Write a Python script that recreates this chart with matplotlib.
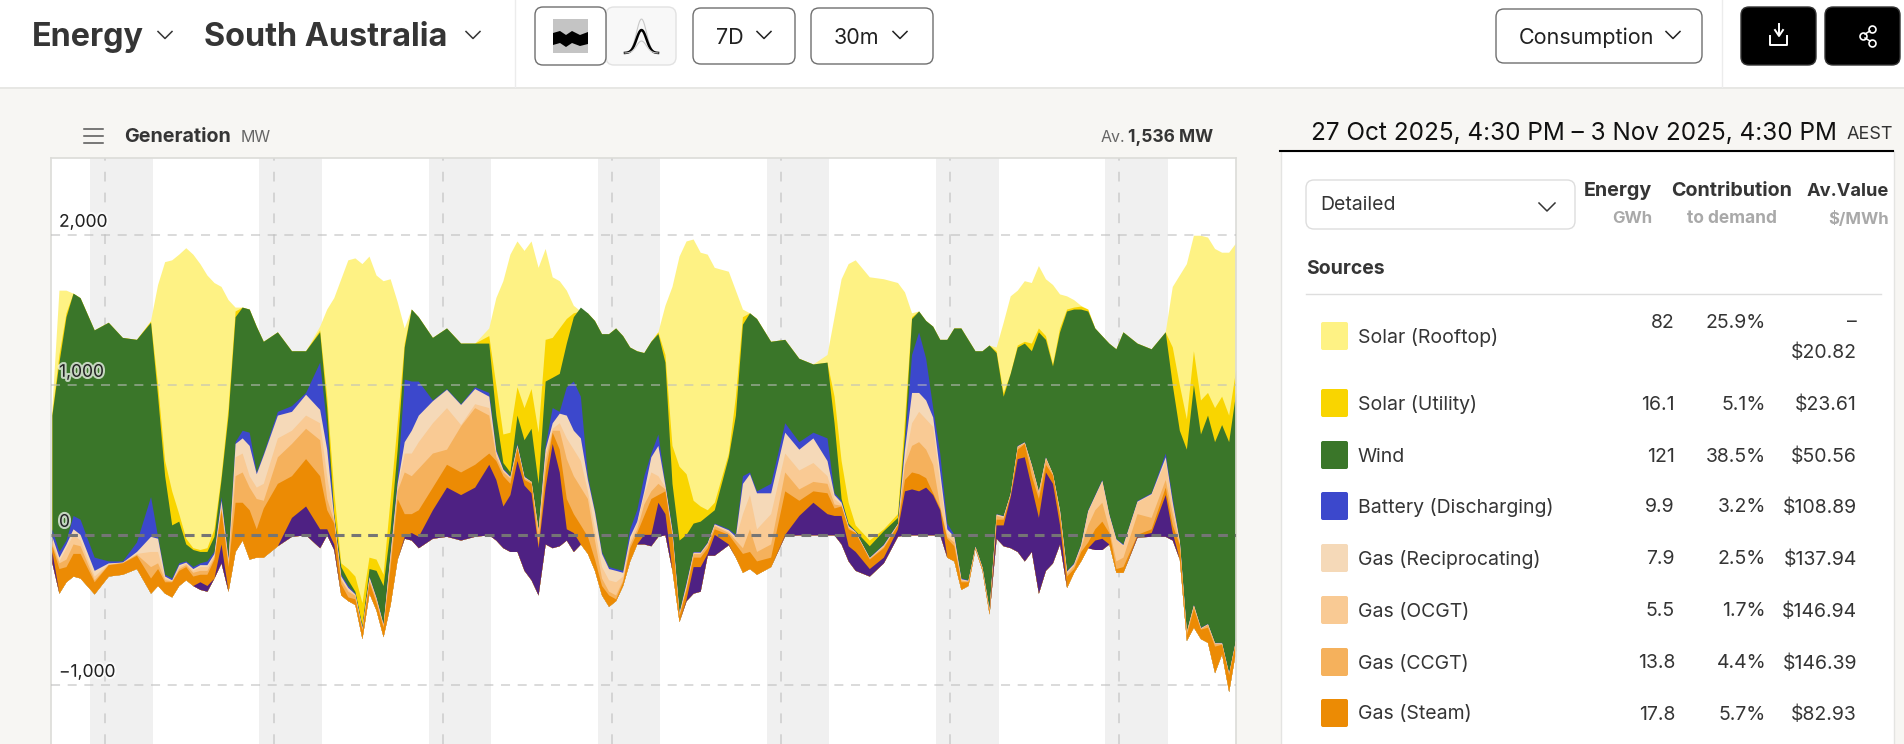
import numpy as np
import matplotlib
matplotlib.use('Agg')
import matplotlib.pyplot as plt
from matplotlib.patches import FancyBboxPatch, Rectangle, Polygon
import matplotlib.patheffects as pe

plt.rcParams['font.family'] = ['Inter', 'DejaVu Sans']
plt.rcParams['lines.scale_dashes'] = False

# hours since 27 Oct 4:30 PM, hourly where the stack moves fast
hours = [0, 1, 2, 3, 4, 6, 8, 10, 12, 14, 15, 16, 17, 18, 19, 20, 21, 22, 23, 24, 25, 26, 27, 28, 29, 30, 32, 34, 36, 38, 39, 40, 41, 42, 43, 44, 45, 46, 47, 48, 49, 50, 51, 52, 54, 56, 58, 60, 62, 63, 64, 65, 66, 67, 68, 69, 70, 71, 72, 73, 74, 75, 76, 77, 78, 79, 80, 81, 82, 83, 84, 85, 86, 87, 88, 89, 90, 91, 92, 93, 94, 96, 97, 98, 99, 100, 102, 104, 106, 108, 110, 111, 112, 113, 114, 116, 118, 120, 121, 122, 123, 124, 125, 126, 127, 128, 129, 130, 131, 132, 133, 134, 135, 136, 137, 138, 139, 140, 141, 142, 143, 144, 145, 146, 147, 148, 149, 150, 151, 152, 154, 156, 158, 159, 160, 161, 162, 163, 164, 165, 166, 167, 168]

# top edge of every layer of the stack, MW
rooftop_top = [848, 1631, 1631, 1611, 1581, 1366, 1417, 1316, 1303, 1429, 1669, 1821, 1833, 1871, 1914, 1871, 1808, 1732, 1682, 1656, 1568, 1518, 1518, 1505, 1391, 1290, 1353, 1227, 1227, 1391, 1505, 1581, 1707, 1833, 1846, 1808, 1858, 1732, 1694, 1707, 1555, 1379, 1505, 1454, 1316, 1379, 1278, 1278, 1379, 1581, 1694, 1871, 1959, 1896, 1959, 1783, 1909, 1720, 1694, 1631, 1530, 1492, 1480, 1429, 1341, 1341, 1379, 1328, 1252, 1227, 1215, 1290, 1353, 1530, 1656, 1858, 1959, 1972, 1884, 1871, 1783, 1757, 1631, 1505, 1480, 1442, 1290, 1303, 1177, 1139, 1202, 1454, 1707, 1808, 1833, 1720, 1707, 1682, 1619, 1480, 1492, 1429, 1391, 1303, 1303, 1379, 1379, 1303, 1227, 1227, 1265, 1252, 1417, 1593, 1631, 1694, 1682, 1795, 1707, 1669, 1606, 1593, 1568, 1530, 1505, 1379, 1328, 1278, 1240, 1353, 1278, 1240, 1353, 1656, 1732, 1808, 1997, 1997, 1985, 1909, 1884, 1884, 1947]
utility_top = [811, 1202, 1480, 1611, 1581, 1366, 1417, 1316, 1303, 1424, 1000, 495, 293, 141, -23, -86, -98, -86, 40, 394, 848, 1492, 1518, 1505, 1391, 1290, 1353, 1227, 1227, 1366, 924, 293, -187, -225, -275, -452, -149, -162, -263, 242, 747, 1278, 1505, 1454, 1316, 1379, 1278, 1278, 1328, 1000, 672, 684, 987, 848, 975, 684, 1303, 1316, 1379, 1442, 1480, 1492, 1480, 1429, 1341, 1341, 1379, 1328, 1252, 1227, 1215, 1290, 1353, 1202, 596, 457, 407, 230, 192, 167, 217, 545, 924, 1454, 1480, 1442, 1290, 1303, 1177, 1139, 1151, 924, 495, 217, 66, -35, 40, 141, 773, 1454, 1492, 1429, 1391, 1303, 1303, 1379, 1379, 1303, 1227, 1227, 1265, 1227, 949, 1076, 1265, 1290, 1278, 1379, 1328, 1139, 1379, 1505, 1518, 1525, 1505, 1379, 1328, 1278, 1240, 1353, 1278, 1240, 1353, 1252, 1000, 773, 1227, 899, 949, 848, 924, 798, 1101]
wind_top = [798, 1151, 1454, 1611, 1581, 1366, 1417, 1316, 1303, 1417, 924, 394, 66, 91, -61, -98, -111, -111, -10, 369, 798, 1454, 1518, 1505, 1391, 1290, 1353, 1227, 1227, 1353, 848, 141, -212, -300, -376, -603, -225, -237, -338, 40, 571, 1252, 1505, 1454, 1316, 1379, 1278, 1278, 1278, 798, 482, 419, 798, 634, 710, 343, 1025, 1050, 1076, 1278, 1454, 1518, 1480, 1429, 1341, 1341, 1379, 1328, 1252, 1227, 1215, 1290, 1341, 1151, 343, -35, 3, 78, 91, 129, 167, 520, 798, 1404, 1480, 1442, 1290, 1303, 1177, 1139, 1151, 747, 242, 78, 28, -73, 28, 116, 672, 1442, 1492, 1429, 1391, 1303, 1303, 1379, 1379, 1303, 1227, 1227, 1265, 1215, 924, 1076, 1252, 1278, 1227, 1353, 1303, 1126, 1353, 1492, 1505, 1505, 1492, 1379, 1328, 1278, 1240, 1353, 1278, 1240, 1353, 1000, 697, 571, 1000, 672, 798, 621, 735, 621, 949]
battery_top = [40, -111, -35, 129, 104, -149, -174, -174, -48, 255, -10, -263, -288, -187, -174, -212, -187, -174, -111, 255, -149, 621, 697, 684, 419, 545, 823, 861, 949, 1151, 722, 129, -263, -338, -389, -616, -275, -414, -591, -111, 369, 1038, 1025, 1025, 899, 975, 874, 987, 949, 571, 444, 394, 609, 394, 356, 40, 596, 848, 823, 987, 1025, 924, 394, 167, -111, -212, -225, -237, 40, 167, 394, 545, 672, 343, 40, -515, -313, -111, -111, -48, 78, 40, 3, 394, 419, 293, 343, 747, 621, 684, 646, 280, 230, 66, 25, -149, -61, 78, 621, 1202, 1353, 1177, 848, 545, 78, 3, -288, -300, -73, -212, -490, 141, 129, 280, 596, 621, 470, 293, 520, 407, 167, -237, -187, -61, 167, 268, 369, 141, -23, -61, 230, 280, 545, 242, -35, -641, -465, -616, -591, -717, -717, -919, -692]
recip_top = [-10, -149, -61, 40, 3, -237, -187, -182, -111, -10, -23, -275, -300, -199, -182, -225, -199, -199, -124, 230, -162, 609, 646, 596, 407, 533, 798, 823, 937, 836, 571, 116, -275, -351, -394, -621, -280, -419, -596, -124, 343, 621, 697, 798, 894, 970, 869, 975, 924, 558, 437, 389, 601, 389, 356, 35, 571, 747, 811, 798, 697, 646, 369, 154, -124, -225, -237, -250, -10, 91, 293, 520, 596, 331, 28, -520, -326, -116, -116, -53, 73, 33, -10, 343, 407, 280, 280, 684, 571, 646, 495, 268, 217, 61, 23, -151, -66, 76, 571, 949, 949, 899, 785, 419, 40, -10, -293, -303, -76, -215, -495, 139, 126, 278, 593, 619, 467, 290, 518, 407, 164, -242, -192, -66, 162, 263, 364, 136, -28, -66, 225, 275, 520, 217, -40, -644, -467, -619, -593, -720, -720, -922, -694]
ocgt_top = [-35, -174, -86, 3, -35, -275, -192, -182, -124, -111, -111, -288, -306, -212, -187, -237, -212, -212, -136, 205, -174, 520, 545, 394, 318, 343, 646, 697, 798, 747, 394, 104, -288, -364, -399, -626, -288, -424, -601, -136, 318, 545, 545, 621, 747, 848, 735, 874, 848, 545, 429, 384, 596, 384, 356, 30, 545, 710, 747, 646, 571, 495, 293, 40, -212, -300, -313, -275, -35, 78, 268, 419, 394, 318, 15, -525, -338, -121, -121, -58, 68, 25, -23, 141, 268, 40, 141, 545, 432, 482, 394, 242, 205, 56, 20, -154, -71, 73, 495, 747, 823, 773, 722, 343, 15, -23, -298, -306, -78, -217, -500, 136, 124, 275, 591, 616, 465, 288, 515, 407, 162, -247, -197, -71, 157, 258, 359, 131, -33, -71, 220, 270, 495, 192, -45, -646, -470, -621, -596, -722, -722, -924, -697]
ccgt_top = [-61, -187, -162, -61, -73, -300, -197, -184, -129, -212, -187, -300, -308, -225, -199, -250, -237, -237, -149, 179, -187, 394, 419, 318, 242, 230, 520, 609, 710, 634, 242, 91, -300, -376, -404, -631, -300, -429, -606, -162, 293, 419, 394, 444, 545, 571, 727, 848, 798, 520, 419, 379, 588, 379, 356, 25, 495, 697, 697, 508, 394, 318, 242, -35, -288, -376, -401, -300, -61, 40, 205, 293, 343, 306, 3, -530, -351, -126, -126, -63, 61, 15, -35, -86, 40, -111, -61, 419, 306, 356, 343, 205, 197, 51, 18, -157, -76, 71, 470, 596, 621, 571, 470, 192, -10, -48, -303, -308, -81, -220, -505, 129, 116, 273, 588, 614, 460, 280, 508, 407, 154, -258, -207, -86, 66, 167, 217, 40, -174, -149, 141, 116, 369, 141, -61, -649, -472, -624, -598, -725, -725, -927, -699]
steam_top = [-73, -225, -212, -124, -124, -313, -199, -187, -136, -288, -225, -313, -313, -237, -212, -275, -263, -263, -162, 167, -212, 217, 217, 167, 40, 179, 343, 394, 508, 394, 167, 78, -326, -414, -427, -636, -313, -452, -616, -212, 242, 141, 141, 167, 318, 470, 419, 470, 545, 495, 394, 343, 583, 369, 343, -61, 419, 684, 571, 242, 141, 66, -10, -162, -338, -401, -427, -313, -86, 15, 129, 242, 268, 293, -10, -540, -364, -149, -149, -86, 40, 3, -61, -124, -111, -174, -149, 293, 230, 293, 280, 179, 192, 40, 15, -162, -86, 66, 369, 419, 407, 381, 280, 179, -23, -73, -313, -313, -86, -225, -510, 104, 104, 268, 571, 609, 394, 242, 470, 399, 129, -275, -225, -111, -48, 40, 91, 15, -225, -212, 3, 40, 318, 66, -66, -667, -490, -629, -616, -742, -730, -932, -704]
imports_top = [-111, -389, -313, -275, -288, -394, -275, -263, -225, -389, -338, -389, -414, -338, -300, -338, -313, -338, -288, -61, -376, -111, -35, -162, -149, -149, -73, 116, 192, 40, 40, -61, -401, -439, -465, -692, -389, -502, -679, -465, -162, -10, 15, -10, 167, 318, 268, 318, 470, 369, 192, 268, 495, 331, 280, -86, 318, 609, 419, 40, 15, -61, -124, -237, -401, -477, -439, -338, -174, -61, 3, 3, 217, 141, -237, -578, -427, -212, -212, -124, 3, -61, -149, -250, -225, -263, -212, 3, 129, 217, 141, 129, 129, -73, -111, -225, -149, 40, 293, 306, 293, 318, 268, 167, -149, -174, -364, -338, -91, -237, -528, 66, 66, 255, 508, 520, 318, 116, 419, 343, 66, -351, -250, -174, -86, -35, -23, -61, -250, -250, -5, 15, 268, 15, -162, -704, -616, -692, -717, -919, -793, -1045, -768]
stack_floor = [-187, -389, -313, -275, -288, -394, -275, -263, -225, -389, -338, -389, -414, -338, -300, -338, -364, -376, -288, -187, -376, -111, -35, -162, -149, -149, -73, -10, 0, -86, 0, -98, -401, -439, -465, -692, -389, -502, -679, -465, -162, -23, -35, -86, -23, -10, -35, -10, 0, -35, -86, -111, -111, -237, -300, -401, -61, -86, -73, -35, -111, -61, -124, -237, -401, -477, -439, -338, -174, -61, -61, -73, -10, 0, -237, -578, -439, -389, -376, -136, -136, -66, -149, -250, -225, -263, -212, -5, 0, 0, 0, 0, -61, -174, -237, -275, -187, -10, 0, 0, 0, 0, 0, 0, -149, -174, -364, -338, -91, -237, -528, -23, -73, -86, -111, -174, -111, -389, -237, -187, -61, -351, -250, -174, -86, -98, -98, -61, -250, -250, -15, -10, -10, -35, -162, -704, -616, -692, -717, -919, -793, -1045, -768]

source_names = ['Solar (Rooftop)', 'Solar (Utility)', 'Wind', 'Battery (Discharging)',
                'Gas (Reciprocating)', 'Gas (OCGT)', 'Gas (CCGT)', 'Gas (Steam)']
source_colors = ['#FEF284', '#F9D500', '#3A7629', '#3C48CC',
                 '#F5D9B8', '#F9CA94', '#F5B15C', '#EC8B04']
imports_color = '#4E2183'
energy_gwh = ['82', '16.1', '121', '9.9', '7.9', '5.5', '13.8', '17.8']
contribution = ['25.9%', '5.1%', '38.5%', '3.2%', '2.5%', '1.7%', '4.4%', '5.7%']
av_value = ['–', '$23.61', '$50.56', '$108.89', '$137.94', '$146.94', '$146.39', '$82.93']
row_y = [336, 403, 455, 506, 558, 610, 662, 713]
y_ticks = [2000, 1000, 0, -1000]
midnights = [7.5 + 24 * d for d in range(7)]

DARK = '#353535'
BG = '#F7F6F3'


def put(ax, x, y, s, **kw):
    # inter sits a little high against va=center
    kw.setdefault('va', 'center')
    ax.text(x, y + 1.5, s, **kw)


def rounded(ax, x0, y0, x1, y1, r=8, fc='white', ec='#6f6f6f', lw=1.0):
    ax.add_patch(FancyBboxPatch((x0 + r, y0 + r), x1 - x0 - 2 * r, y1 - y0 - 2 * r,
                                boxstyle='round,pad=%d,rounding_size=%d' % (r, r),
                                fc=fc, ec=ec, lw=lw))


def chevron(ax, x, y, w=7, h=7, color=DARK):
    ax.plot([x - w, x, x + w], [y - h / 2, y + h / 2, y - h / 2], color=color, lw=1.1)


def draw_chart(ax):
    t = np.array(hours)
    for m in midnights:
        ax.axvspan(m - 2.05, m + 6.85, color='#F0F0F0', lw=0, zorder=0)
        ax.axvline(m, color='#cfcfcf', lw=1.2, dashes=(7, 8), zorder=1)

    # painted from the top layer down, each one covers the rest of the one before
    tops = [rooftop_top, utility_top, wind_top, battery_top, recip_top, ocgt_top, ccgt_top, steam_top]
    for top, color in zip(tops, source_colors):
        ax.fill_between(t, stack_floor, top, color=color, lw=0, zorder=2)
    ax.fill_between(t, stack_floor, imports_top, color=imports_color, lw=0, zorder=2)

    for v in y_ticks:
        if v == 0:
            ax.axhline(v, color='#757575', lw=2.2, dashes=(7, 5), zorder=4)
        else:
            ax.axhline(v, color='#bdbdbd', lw=1.1, alpha=0.7, dashes=(6.5, 5.5), zorder=4)
        label = format(v, ',').replace('-', '−')
        ax.annotate(label, (0, v), xycoords=('axes fraction', 'data'), xytext=(6, 9),
                    textcoords='offset points', va='center', fontsize=12.5, color='#222222', zorder=5,
                    path_effects=[pe.withStroke(linewidth=3, foreground='white', alpha=0.7)])

    ax.set_xlim(-0.17, 168)
    ax.set_ylim(-1394.7, 2512)
    ax.set_xticks([])
    ax.set_yticks([])
    for s in ax.spines.values():
        s.set_color('#dcdcd8')
        s.set_linewidth(1.2)
    ax.spines['bottom'].set_visible(False)


def draw_header(ax):
    ax.add_patch(Rectangle((0, 0), 1904, 87, fc='white', ec='none'))
    ax.plot([0, 1904], [87.5, 87.5], color='#e4e4e2', lw=1.2)
    ax.plot([514.5, 514.5], [0, 87], color='#ececec', lw=1)
    ax.plot([1721.5, 1721.5], [0, 87], color='#ececec', lw=1)

    put(ax, 32, 36, 'Energy', fontsize=23.3, fontweight='bold', color=DARK)
    chevron(ax, 165, 35)
    put(ax, 204, 36, 'South Australia', fontsize=23.3, fontweight='bold', color=DARK)
    chevron(ax, 473, 35)

    rounded(ax, 606, 7, 676, 65, fc='#F8F8F8', ec='#e2e2e2')
    rounded(ax, 535, 7, 606, 65)
    ax.add_patch(Rectangle((553, 19), 35, 34, fc='#c4c4c4', ec='none'))
    ax.add_patch(Polygon([(553, 33), (560, 31), (566, 35), (572, 31), (580, 35), (588, 32),
                          (588, 44), (580, 46), (572, 43), (566, 47), (560, 43), (553, 45)],
                         fc='black', ec='none'))
    px = np.linspace(625, 658, 40)
    ax.plot(px, 53 - 34 * np.exp(-((px - 641.5) / 7) ** 2), color='#c8c8c8', lw=0.8)
    ax.plot(px, 53 - 23 * np.exp(-((px - 641.5) / 7) ** 2), color='black', lw=1.8)
    ax.plot(px, 53 - 12 * np.exp(-((px - 641.5) / 7) ** 2), color='#c8c8c8', lw=0.8)

    rounded(ax, 693, 8, 795, 64)
    put(ax, 716, 36, '7D', fontsize=15.5, color='#222222')
    chevron(ax, 764, 35, color='#222222')
    rounded(ax, 811, 8, 933, 64)
    put(ax, 834, 36, '30m', fontsize=15.5, color='#222222')
    chevron(ax, 900, 35, color='#222222')
    rounded(ax, 1496, 9, 1702, 63)
    put(ax, 1519, 36, 'Consumption', fontsize=15.5, color='#222222')
    chevron(ax, 1673, 35, color='#222222')

    rounded(ax, 1741, 7, 1816, 65, fc='black', ec='#333333')
    rounded(ax, 1825, 7, 1900, 65, fc='black', ec='#333333')
    ax.plot([1770, 1770, 1787, 1787], [36, 45, 45, 36], color='white', lw=1.4)
    ax.plot([1775, 1779, 1783], [30, 36, 30], color='white', lw=1.4)
    ax.plot([1779, 1779], [24, 35], color='white', lw=1.4)
    for cx, cy in [(1863, 36), (1872, 29), (1872, 43)]:
        ax.plot(cx, cy, 'o', ms=5, mfc='black', mec='white', mew=1.2)
    ax.plot([1865, 1870], [34, 31], color='white', lw=1.1)
    ax.plot([1865, 1870], [38, 41], color='white', lw=1.1)

    for y in (129, 136, 143):
        ax.plot([84, 103], [y, y], color='#555555', lw=1.1)
    put(ax, 124, 136, 'Generation', fontsize=14.2, fontweight='bold', color=DARK)
    put(ax, 241, 136, 'MW', fontsize=11.5, color='#666666')
    put(ax, 1213, 136, '1,536 MW', fontsize=12.5, fontweight='bold', color=DARK, ha='right')
    put(ax, 1125, 136, 'Av.', fontsize=11.5, color='#666666', ha='right')


def draw_panel(ax):
    ax.add_patch(Rectangle((1280.5, 151), 613, 600, fc='white', ec='#e4e4e2', lw=1))
    ax.plot([1280, 1893], [151, 151], color='black', lw=1.5)
    put(ax, 1311, 132, '27 Oct 2025, 4:30 PM – 3 Nov 2025, 4:30 PM', fontsize=17.5, color='#111111')
    put(ax, 1893, 133, 'AEST', fontsize=13, color='#333333', ha='right')

    rounded(ax, 1306, 180, 1575, 229, fc='white', ec='#dddddd')
    put(ax, 1320, 204, 'Detailed', fontsize=14, color=DARK)
    chevron(ax, 1547, 207, w=8, h=8)

    put(ax, 1652, 190, 'Energy', fontsize=14.2, fontweight='bold', color=DARK, ha='right')
    put(ax, 1652, 217, 'GWh', fontsize=12, fontweight='bold', color='#a9a9a9', ha='right')
    put(ax, 1732, 190, 'Contribution', fontsize=14.2, fontweight='bold', color=DARK, ha='center')
    put(ax, 1732, 217, 'to demand', fontsize=12.5, fontweight='bold', color='#a9a9a9', ha='center')
    put(ax, 1889, 190, 'Av.Value', fontsize=13.2, fontweight='bold', color=DARK, ha='right')
    put(ax, 1889, 217, '$/MWh', fontsize=12, fontweight='bold', color='#a9a9a9', ha='right')

    put(ax, 1306, 268, 'Sources', fontsize=14, fontweight='bold', color=DARK)
    ax.plot([1306, 1881], [294, 294], color='#dedede', lw=1)

    for i, name in enumerate(source_names):
        y = row_y[i]
        ax.add_patch(FancyBboxPatch((1323, y - 12), 23, 24, boxstyle='round,pad=2',
                                    fc=source_colors[i], ec='none'))
        put(ax, 1358, y, name, fontsize=14, color=DARK)
        num_y = y - 15 if i == 0 else y
        put(ax, 1675, num_y, energy_gwh[i], fontsize=14, color=DARK, ha='right')
        put(ax, 1766, num_y, contribution[i], fontsize=14, color=DARK, ha='right')
        put(ax, 1857, num_y, av_value[i], fontsize=14, color=DARK, ha='right')
    put(ax, 1857, 351, '$20.82', fontsize=14, color=DARK, ha='right')


if __name__ == "__main__":
    fig = plt.figure(figsize=(19.04, 7.44), dpi=100, facecolor=BG)
    chart = fig.add_axes([50.7 / 1904, 0, 1185 / 1904, (744 - 158) / 744], facecolor='white')
    draw_chart(chart)

    ui = fig.add_axes([0, 0, 1, 1], facecolor='none')
    ui.set_xlim(0, 1904)
    ui.set_ylim(744, 0)
    ui.axis('off')
    draw_header(ui)
    draw_panel(ui)
    fig.savefig('out.png', dpi=100, facecolor=BG)
